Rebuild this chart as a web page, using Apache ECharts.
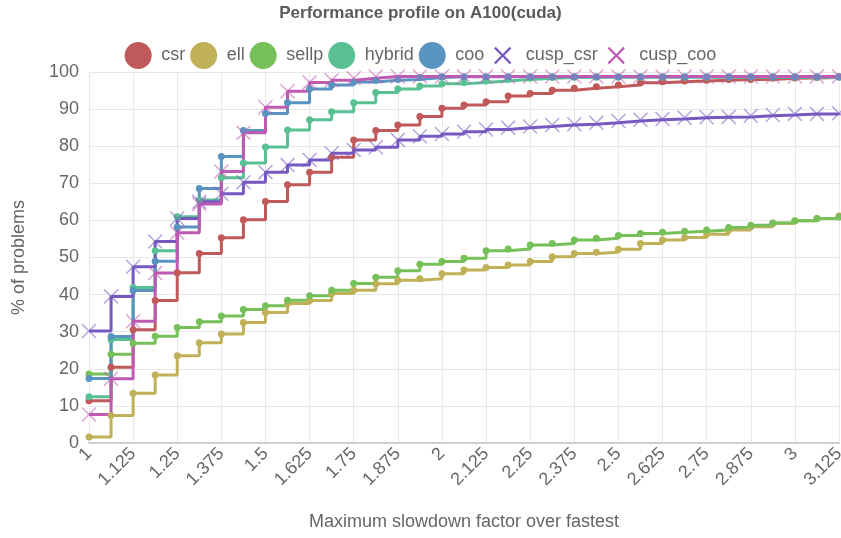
<!DOCTYPE html>
<html>
<head>
<meta charset="utf-8">
<script src="https://cdn.jsdelivr.net/npm/echarts@6/dist/echarts.min.js"></script>
<style>html,body{margin:0;padding:0;background:#fff;}#chart{width:841px;height:538px;}</style>
</head>
<body>
<div id="chart"></div>
<script>
const xs = [1,1.0625,1.125,1.1875,1.25,1.3125,1.375,1.4375,1.5,1.5625,1.625,1.6875,1.75,1.8125,1.875,1.9375,2,2.0625,2.125,2.1875,2.25,2.3125,2.375,2.4375,2.5,2.5625,2.625,2.6875,2.75,2.8125,2.875,2.9375,3,3.0625,3.125];
const csr = [11.4,20.4,30.5,38.4,45.9,51.1,55.3,60.2,65.1,69.6,73.0,77.0,81.7,84.2,85.7,88.0,90.2,91.1,92.0,93.5,94.2,95.1,95.6,96.0,96.5,97.1,97.4,97.6,97.8,98.0,98.0,98.3,98.4,98.5,98.7];
const ell = [1.6,7.4,13.4,18.3,23.5,27.0,29.4,32.5,35.2,37.6,38.4,40.3,41.2,42.9,43.9,44.3,45.6,46.6,47.3,48.0,48.9,50.2,51.1,51.4,52.2,53.8,54.7,55.4,56.3,57.4,58.3,59.2,59.9,60.5,61.2];
const sellp = [18.6,23.9,26.9,28.8,31.1,32.7,34.2,36.0,37.0,38.5,39.7,41.2,43.0,44.7,46.4,48.2,48.9,49.8,51.8,52.3,53.4,53.8,54.7,55.2,55.9,56.5,56.8,57.1,57.4,58.1,58.7,59.3,59.9,60.5,60.9];
const hybrid = [12.5,27.9,41.9,51.8,61.0,65.5,71.5,75.5,79.8,84.4,87.1,89.3,91.7,94.5,95.4,96.2,96.8,97.2,97.6,98.0,98.3,98.5,98.6,98.6,98.6,98.6,98.6,98.6,98.6,98.6,98.6,98.6,98.6,98.6,98.6];
const coo = [17.4,28.7,41.1,49.0,58.2,68.6,77.2,84.2,88.8,91.7,95.4,96.5,97.3,97.8,98.0,98.5,98.7,98.7,98.7,98.7,98.7,98.7,98.7,98.7,98.7,98.7,98.7,98.7,98.7,98.7,98.7,98.7,98.7,98.7,98.7];
const cusp_csr = [30.2,39.5,47.5,54.3,60.5,65.0,67.2,70.3,73.0,74.9,76.3,78.1,79.0,79.7,81.7,82.7,83.3,83.9,84.5,85.0,85.3,85.7,85.9,86.3,86.8,87.1,87.3,87.7,87.8,87.9,88.2,88.4,88.7,88.7,88.9];
const cusp_coo = [7.7,17.3,32.8,45.8,56.7,64.4,73.2,83.6,90.5,94.8,97.2,97.8,98.3,98.8,98.8,98.8,98.8,98.8,98.8,98.8,98.8,98.8,98.8,98.8,98.8,98.8,98.8,98.8,98.8,98.8,98.8,98.8,98.8,98.8,98.8];

const seriesNames = ['csr','ell','sellp','hybrid','coo','cusp_csr','cusp_coo'];
const seriesValues = [csr, ell, sellp, hybrid, coo, cusp_csr, cusp_coo];
const colors = ['#c05959','#c0b159','#76c059','#59c094','#5994c0','#7659c0','#c059b1'];

const X_MARK = 'path://M0,7L7,0L50,43L93,0L100,7L57,50L100,93L93,100L50,57L7,100L0,93L43,50Z';
const X_LEGEND = 'path://M0,0M100,100M18,24L24,18L50,44L76,18L82,24L56,50L82,76L76,82L50,56L24,82L18,76L44,50Z';

const FONT = 'Liberation Sans';
const chart = echarts.init(document.getElementById('chart'), null, {renderer: 'canvas'});

const series = seriesNames.map((name, i) => {
  const isX = name.startsWith('cusp');
  return {
    name: name,
    type: 'line',
    step: 'end',
    data: xs.map((x, j) => [x, seriesValues[i][j]]),
    symbol: isX ? X_MARK : 'circle',
    symbolSize: isX ? 15 : 7,
    showAllSymbol: true,
    lineStyle: {width: 3, color: colors[i]},
    itemStyle: {color: colors[i], opacity: isX ? 0.55 : 1},
    emphasis: {disabled: true}
  };
});

chart.setOption({
  animation: false,
  color: colors,
  textStyle: {fontFamily: FONT},
  title: {
    text: 'Performance profile on A100(cuda)',
    left: 'center',
    top: 0,
    textStyle: {fontFamily: FONT, fontSize: 17, fontWeight: 'bold', color: '#5a5a5a'}
  },
  legend: {
    top: 37,
    left: 'center',
    itemWidth: 36,
    itemHeight: 27,
    itemGap: 5,
    textStyle: {fontFamily: FONT, fontSize: 18, color: '#666'},
    data: seriesNames.map((name, i) => ({
      name: name,
      icon: name.startsWith('cusp') ? X_LEGEND : 'circle',
      itemStyle: {color: colors[i], opacity: 1}
    }))
  },
  grid: {left: 89, right: 2, top: 72, bottom: 95, containLabel: false, outerBoundsMode: 'none'},
  xAxis: {
    type: 'value',
    min: 1,
    max: 3.125,
    interval: 0.125,
    name: 'Maximum slowdown factor over fastest',
    nameLocation: 'middle',
    nameGap: 70,
    nameMoveOverlap: false,
    nameTextStyle: {fontFamily: FONT, fontSize: 18, color: '#666'},
    axisLine: {show: true, lineStyle: {color: '#cfcfcf', width: 2}},
    axisTick: {show: false},
    axisLabel: {rotate: 45, fontFamily: FONT, fontSize: 18, color: '#666', margin: 8},
    splitLine: {show: true, lineStyle: {color: '#e8e8e8', width: 1}}
  },
  yAxis: {
    type: 'value',
    min: 0,
    max: 100,
    interval: 10,
    name: '% of problems',
    nameLocation: 'middle',
    nameGap: 61,
    nameMoveOverlap: false,
    nameTextStyle: {fontFamily: FONT, fontSize: 18, color: '#666'},
    axisLine: {show: false},
    axisTick: {show: false},
    axisLabel: {fontFamily: FONT, fontSize: 18, color: '#666', margin: 10},
    splitLine: {show: true, lineStyle: {color: '#e8e8e8', width: 1}}
  },
  series: series
});
</script>
</body>
</html>
